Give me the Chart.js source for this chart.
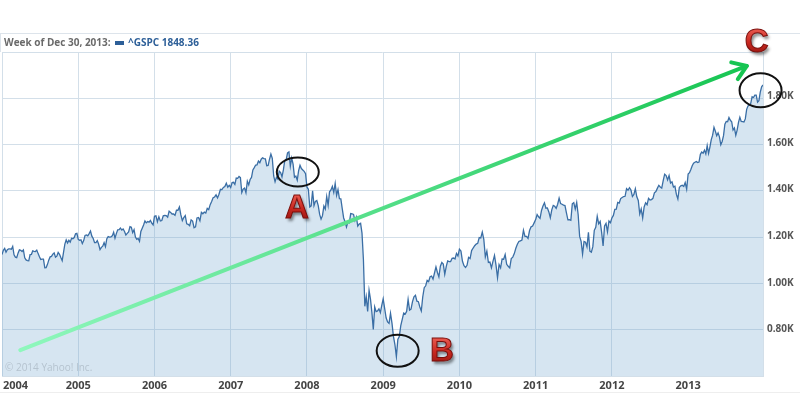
<!DOCTYPE html>
<html>
<head>
<meta charset="utf-8">
<script src="https://cdn.jsdelivr.net/npm/chart.js@4.4.1/dist/chart.umd.min.js"></script>
<style>
  html, body { margin: 0; padding: 0; background: #fff; }
</style>
</head>
<body>
<canvas id="myChart" width="800" height="411"></canvas>
<script>
// Weekly closes of ^GSPC, one list per year
const years = [2004, 2005, 2006, 2007, 2008, 2009, 2010, 2011, 2012, 2013];
const w2004 = [1121,1139,1147,1131, 1142,1145,1145,1144, 1156,1120,1110,1108,1127, 1141,1139,1134,1141,1107, 1098,1095,1094,1121, 1122,1137,1135,1134,1140, 1125,1112,1100,1101,1101, 1064,1065,1079,1098,1111, 1113,1123,1128,1110,1114, 1130,1122,1108,1095,1130, 1166,1184,1171,1182,1174, 1191,1189,1194,1210,1212];
const w2005 = [1186,1182,1184,1168,1181, 1203,1205,1201,1211, 1222,1200,1190,1172,1172, 1181,1165,1142,1152,1157, 1172,1155,1189,1198, 1196,1197,1201,1217,1191, 1211,1227,1228,1235, 1226,1231,1220,1205,1212, 1218,1241,1238,1215,1228, 1196,1186,1190,1178, 1220,1234,1248,1265,1257, 1263,1260,1267,1256,1248];
const w2006 = [1285,1287,1262,1283, 1265,1267,1287,1289, 1288,1281,1307,1302,1295, 1295,1289,1311,1311, 1325,1291,1267,1280, 1288,1253,1251,1245,1270, 1265,1236,1240,1278, 1280,1266,1302,1296,1303, 1299,1319,1314,1335, 1349,1365,1368,1377, 1364,1380,1401,1400, 1409,1413,1427,1410,1418];
const w2007 = [1409,1430,1431,1422,1449, 1448,1456,1451,1387, 1402,1406,1386,1436,1420, 1443,1452,1484,1494, 1505,1506,1522,1515,1530, 1536,1533,1532,1502,1503, 1530,1552,1534,1458, 1433,1453,1445,1479,1473, 1454,1484,1525,1527, 1557,1561,1500,1535,1509, 1453,1458,1440,1481, 1504,1490,1484,1478,1468];
const w2008 = [1411,1401,1325,1330,1395, 1331,1349,1353,1331, 1293,1273,1288,1329,1316, 1370,1332,1390,1398, 1413,1388,1426,1375,1400, 1361,1360,1318,1278, 1262,1239,1260,1257, 1297,1296,1293,1267,1282, 1243,1252,1255,1213, 1100,899,940,877,968, 930,873,800,896, 876,879,888,872,903];
const w2009 = [931,890,850,832,826, 869,827,770,735, 683,757,769,816, 843,870,866,877, 929,883,887,919, 940,946,921,919, 896,879,940,979,987, 1010,1005,1026,1029, 1016,1042,1068,1044, 1025,1071,1087,1080,1036, 1069,1094,1091,1091, 1105,1106,1102,1126,1115];
const w2010 = [1144,1136,1092,1073, 1066,1075,1109,1104, 1138,1149,1159,1166,1169, 1194,1192,1217,1186, 1111,1136,1087,1089, 1064,1092,1117,1076,1022, 1078,1064,1102,1101, 1121,1079,1071,1064, 1104,1110,1125,1148, 1165,1177,1180,1183, 1225,1199,1199,1190, 1224,1240,1243,1257];
const w2011 = [1271,1293,1283,1276, 1310,1329,1343,1320, 1321,1304,1279,1313,1332, 1328,1319,1337,1363, 1340,1337,1333,1331,1300, 1270,1271,1268,1339, 1344,1316,1345,1292, 1199,1178,1123,1177, 1174,1154,1216,1136,1131, 1155,1225,1238,1285, 1253,1263,1216,1158, 1244,1255,1219,1265,1258];
const w2012 = [1278,1289,1315,1316, 1345,1342,1361,1366, 1370,1371,1404,1397,1408, 1398,1370,1379,1403, 1369,1353,1295,1317, 1278,1325,1343,1335,1362, 1355,1357,1362,1386, 1391,1405,1418,1411,1406, 1438,1466,1460,1441, 1460,1428,1433,1411, 1414,1379,1359,1409,1416, 1418,1413,1430,1402];
const w2013 = [1466,1472,1486,1502, 1513,1517,1520,1516, 1518,1551,1561,1556,1569, 1553,1588,1555,1582,1614, 1633,1667,1650,1631, 1643,1626,1592,1606, 1631,1680,1692,1691,1709, 1697,1691,1655,1664,1633, 1655,1688,1710,1692,1691, 1690,1703,1744,1759,1762, 1770,1798,1795,1805, 1805,1775,1781,1818,1841,1848.36];
const weekly = [w2004, w2005, w2006, w2007, w2008, w2009, w2010, w2011, w2012, w2013];
const yTicks = [800, 1000, 1200, 1400, 1600, 1800];

// build {x, y} points: x is the year plus the fraction of the year
const points = [];
years.forEach((yr, k) => {
    const arr = weekly[k];
    arr.forEach((v, i) => points.push({ x: yr + i / arr.length, y: v }));
});
const lastX = points[points.length - 1].x;

// annotations (in data units)
const ellipses = [
    { x: 2007.88, y: 1475, rx: 21, ry: 14.5 },
    { x: 2009.19, y: 708, rx: 21, ry: 16 },
    { x: 2013.95, y: 1826, rx: 21, ry: 17 }
];
const letters = [
    { t: 'A', x: 2007.87, y: 1318 },
    { t: 'B', x: 2009.77, y: 703 },
    { t: 'C', x: 2013.90, y: 2030 }
];
const arrow = { x0: 2004.24, y0: 711, x1: 2013.77, y1: 1930 };

function drawLetter(ctx, ch, x, y) {
    ctx.save();
    ctx.font = 'bold 33px "Liberation Sans", Arial, sans-serif';
    ctx.textAlign = 'center';
    ctx.textBaseline = 'middle';
    ctx.shadowColor = 'rgba(0,0,0,0.45)';
    ctx.shadowOffsetX = 2;
    ctx.shadowOffsetY = 3;
    ctx.shadowBlur = 3;
    const g = ctx.createLinearGradient(0, y - 14, 0, y + 14);
    g.addColorStop(0, '#ea5a50');
    g.addColorStop(0.5, '#c8271f');
    g.addColorStop(1, '#921410');
    ctx.fillStyle = g;
    ctx.fillText(ch, x, y);
    ctx.shadowColor = 'transparent';
    ctx.lineWidth = 1;
    ctx.strokeStyle = '#7a0d0a';
    ctx.strokeText(ch, x, y);
    ctx.restore();
}

const overlay = {
    id: 'overlay',
    afterDraw(chart) {
        const ctx = chart.ctx;
        const xs = chart.scales.x, ys = chart.scales.y;
        const area = chart.chartArea;

        // header bar
        ctx.save();
        ctx.fillStyle = '#fff';
        ctx.fillRect(0, 33, 800, area.top - 33);
        ctx.strokeStyle = '#dde4eb';
        ctx.lineWidth = 1;
        ctx.beginPath();
        ctx.moveTo(0, 33.5); ctx.lineTo(800, 33.5);
        ctx.moveTo(0.5, 33.5); ctx.lineTo(0.5, area.top);
        ctx.stroke();
        ctx.font = 'bold 10px "Open Sans", "DejaVu Sans", sans-serif';
        ctx.textBaseline = 'middle';
        ctx.fillStyle = '#6a6a6a';
        ctx.fillText('Week of Dec 30, 2013:', 4, 43);
        ctx.fillStyle = '#2d5f98';
        ctx.fillRect(115, 41, 9, 4);
        ctx.fillText('^GSPC 1848.36', 128, 43);

        // y labels on the right
        ctx.font = 'bold 10px "Open Sans", "DejaVu Sans", sans-serif';
        ctx.fillStyle = '#555';
        ctx.textAlign = 'left';
        yTicks.forEach(v => {
            ctx.fillText((v / 1000).toFixed(2) + 'K', area.right + 4, ys.getPixelForValue(v));
        });

        // x labels
        ctx.font = 'bold 11px "Open Sans", "DejaVu Sans", sans-serif';
        ctx.fillStyle = '#444';
        years.forEach((yr, k) => {
            const px = xs.getPixelForValue(yr);
            ctx.textAlign = k === 0 ? 'left' : 'center';
            ctx.fillText(String(yr), k === 0 ? 3 : px, 386);
        });
        ctx.strokeStyle = '#eeeeee';
        ctx.beginPath();
        ctx.moveTo(0, 392.5); ctx.lineTo(800, 392.5);
        ctx.stroke();

        // watermark
        ctx.textAlign = 'left';
        ctx.font = '10px "Open Sans", "DejaVu Sans", sans-serif';
        ctx.fillStyle = '#b5c3cf';
        ctx.fillText('\u00a9 2014 Yahoo! Inc.', 5, 368);

        // green arrow
        const ax0 = xs.getPixelForValue(arrow.x0), ay0 = ys.getPixelForValue(arrow.y0);
        const ax1 = xs.getPixelForValue(arrow.x1), ay1 = ys.getPixelForValue(arrow.y1);
        const grad = ctx.createLinearGradient(ax0, ay0, ax1, ay1);
        grad.addColorStop(0, '#8ff7bd');
        grad.addColorStop(1, '#17c552');
        ctx.strokeStyle = grad;
        ctx.lineWidth = 4;
        ctx.lineCap = 'round';
        ctx.lineJoin = 'round';
        ctx.beginPath();
        ctx.moveTo(ax0, ay0); ctx.lineTo(ax1, ay1);
        ctx.stroke();
        const ang = Math.atan2(ay1 - ay0, ax1 - ax0);
        const hl = 16, spread = 0.6;
        ctx.strokeStyle = '#17c552';
        ctx.beginPath();
        ctx.moveTo(ax1 - hl * Math.cos(ang - spread), ay1 - hl * Math.sin(ang - spread));
        ctx.lineTo(ax1, ay1);
        ctx.lineTo(ax1 - hl * Math.cos(ang + spread), ay1 - hl * Math.sin(ang + spread));
        ctx.stroke();

        // ellipses
        ctx.strokeStyle = '#111';
        ctx.lineWidth = 2;
        ellipses.forEach(e => {
            ctx.beginPath();
            ctx.ellipse(xs.getPixelForValue(e.x), ys.getPixelForValue(e.y), e.rx, e.ry, 0, 0, Math.PI * 2);
            ctx.stroke();
        });
        ctx.restore();

        letters.forEach(l => drawLetter(ctx, l.t, xs.getPixelForValue(l.x), ys.getPixelForValue(l.y)));
    }
};

const ctx = document.getElementById('myChart').getContext('2d');
const myChart = new Chart(ctx, {
    type: 'line',
    data: {
        datasets: [{
            label: '^GSPC',
            data: points,
            borderColor: '#3a6ea5',
            borderWidth: 1.3,
            backgroundColor: 'rgba(120,170,210,0.30)',
            fill: 'start',
            pointRadius: 0,
            tension: 0
        }]
    },
    options: {
        responsive: false,
        animation: false,
        layout: { padding: { top: 52, left: 2, bottom: 35, right: 37 } },
        plugins: { legend: { display: false }, tooltip: { enabled: false } },
        scales: {
            x: {
                type: 'linear',
                min: 2004,
                max: lastX,
                ticks: { display: false, stepSize: 1 },
                grid: { color: '#d3dfe9', drawTicks: false },
                border: { color: '#d3dfe9' }
            },
            y: {
                position: 'right',
                min: 600,
                max: 1990,
                ticks: { display: false, stepSize: 200 },
                grid: { color: '#d3dfe9', drawTicks: false },
                border: { color: '#d3dfe9' }
            }
        }
    },
    plugins: [overlay]
});
</script>
</body>
</html>
